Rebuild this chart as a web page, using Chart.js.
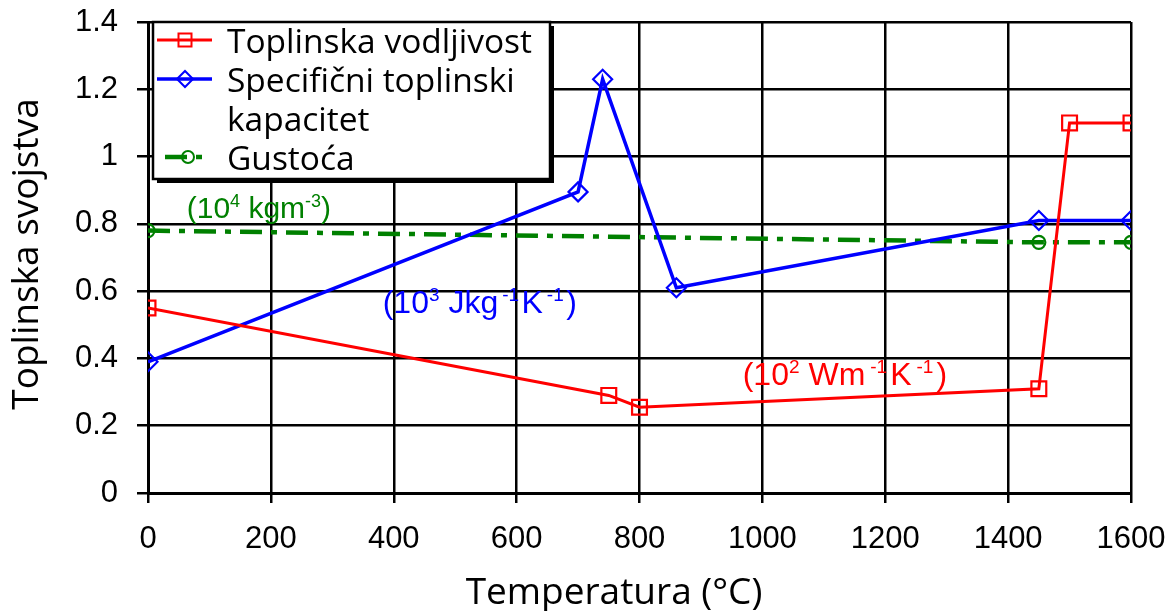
<!DOCTYPE html>
<html>
<head>
<meta charset="utf-8">
<script src="https://cdn.jsdelivr.net/npm/chart.js@4/dist/chart.umd.min.js"></script>
<style>
html,body{margin:0;padding:0;background:#fff;}
#wrap{position:relative;width:1176px;height:611px;}
</style>
</head>
<body>
<div id="wrap"><canvas id="c" width="1176" height="611"></canvas></div>
<script>
// ---- data ----
const xTicks = [0, 200, 400, 600, 800, 1000, 1200, 1400, 1600];
const yTicks = ['0', '0.2', '0.4', '0.6', '0.8', '1', '1.2', '1.4'];

const conductivityTemp = [0, 750, 800, 1450, 1500, 1600];
const conductivity     = [0.55, 0.29, 0.255, 0.31, 1.10, 1.10];

const heatCapTemp = [0, 700, 740, 860, 1450, 1600];
const heatCap     = [0.39, 0.895, 1.23, 0.61, 0.81, 0.81];

const densityTemp = [0, 1450, 1600];
const density     = [0.78, 0.745, 0.745];

const seriesNames = ['Toplinska vodljivost', 'Specifični toplinski kapacitet', 'Gustoća'];
const xTitle = 'Temperatura (°C)';
const yTitle = 'Toplinska svojstva';

// unit annotations: [text, isSuperscript] pieces, anchored at data coordinates
const unitNotes = [
  { color: '#ff0000', at: [968, 0.321], size: 32, gap: 5, parts: [['(10',0],['2',1],[' Wm',0],['-1',1],['K',0],['-1',1],[')',0]] },
  { color: '#0000ff', at: [382, 0.535], size: 32, gap: 4, parts: [['(10',0],['3',1],[' Jkg',0],['-1',1],['K',0],['-1',1],[')',0]] },
  { color: '#008000', at: [63, 0.817],  size: 30, gap: 0, parts: [['(10',0],['4',1],[' kgm',0],['-3',1],[')',0]] }
];

const pts = (xs, ys) => xs.map((x, i) => ({ x: x, y: ys[i] }));

const SANS = '"Open Sans", "Noto Sans", sans-serif';
const ARIAL = '"Liberation Sans", Arial, sans-serif';

const unitPlugin = {
  id: 'unitNotes',
  afterDatasetsDraw(chart) {
    const ctx = chart.ctx, xs = chart.scales.x, ys = chart.scales.y;
    ctx.save();
    ctx.textBaseline = 'alphabetic';
    ctx.textAlign = 'left';
    unitNotes.forEach(n => {
      let px = xs.getPixelForValue(n.at[0]);
      const py = ys.getPixelForValue(n.at[1]);
      ctx.fillStyle = n.color;
      n.parts.forEach(([t, sup]) => {
        const size = sup ? Math.round(n.size * 0.6) : n.size;
        ctx.font = size + 'px ' + ARIAL;
        const neg = sup && t.charAt(0) === '-';
        if (neg) px += n.gap;
        ctx.fillText(t, px, sup ? py - n.size * 0.38 : py);
        px += ctx.measureText(t).width;
        if (neg) px += n.gap * 0.6;
      });
    });
    ctx.restore();
  }
};

function drawMarker(ctx, style, x, y, r) {
  ctx.beginPath();
  if (style === 'rect') {
    ctx.rect(x - r, y - r, 2 * r, 2 * r);
  } else if (style === 'rectRot') {
    ctx.moveTo(x - r, y); ctx.lineTo(x, y - r); ctx.lineTo(x + r, y); ctx.lineTo(x, y + r); ctx.closePath();
  } else {
    ctx.arc(x, y, r, 0, Math.PI * 2);
  }
  ctx.stroke();
}

const legendPlugin = {
  id: 'boxLegend',
  afterDraw(chart) {
    const ctx = chart.ctx;
    const L = 153, T = 22, R = 550, B = 179;
    ctx.save();
    ctx.fillStyle = '#000';
    ctx.fillRect(L + 4, T + 4, R - L, B - T);
    ctx.fillStyle = '#fff';
    ctx.fillRect(L, T, R - L, B - T);
    ctx.strokeStyle = '#000';
    ctx.lineWidth = 2.5;
    ctx.strokeRect(L, T, R - L, B - T);

    ctx.font = '33.5px ' + SANS;
    ctx.fillStyle = '#000';
    ctx.textBaseline = 'alphabetic';
    ctx.textAlign = 'left';
    const lineH = 39;
    let baseline = 53;
    const maxW = R - 227 - 8;
    chart.data.datasets.forEach((ds) => {
      const words = ds.label.split(' ');
      const lines = [];
      let cur = '';
      words.forEach(w => {
        const test = cur ? cur + ' ' + w : w;
        if (ctx.measureText(test).width > maxW && cur) { lines.push(cur); cur = w; } else { cur = test; }
      });
      lines.push(cur);
      const sy = baseline - 13;
      ctx.strokeStyle = ds.borderColor;
      ctx.lineWidth = ds.borderWidth;
      ctx.setLineDash(ds.borderDash || []);
      ctx.beginPath();
      if (ds.borderDash) { ctx.moveTo(165, sy); ctx.lineTo(207, sy); }
      else { ctx.moveTo(157, sy); ctx.lineTo(212, sy); }
      ctx.stroke();
      ctx.setLineDash([]);
      ctx.lineWidth = 2;
      drawMarker(ctx, ds.pointStyle, ds.borderDash ? 188 : 185, sy, ds.pointStyle === 'rect' ? 6.5 : (ds.pointStyle === 'rectRot' ? 8 : 6));
      ctx.fillStyle = '#000';
      ctx.font = '33.5px ' + SANS;
      lines.forEach((ln, k) => ctx.fillText(ln, 227, baseline + k * lineH));
      baseline += lineH * lines.length;
    });
    ctx.restore();
  }
};

const titlePlugin = {
  id: 'axisTitles',
  afterDraw(chart) {
    const ctx = chart.ctx;
    ctx.save();
    ctx.fillStyle = '#000';
    ctx.font = '37px ' + SANS;
    ctx.textAlign = 'center';
    ctx.textBaseline = 'alphabetic';
    ctx.fillText(xTitle, 614, 604);
    ctx.font = '37px ' + SANS;
    ctx.translate(38, 254);
    ctx.rotate(-Math.PI / 2);
    ctx.fillText(yTitle, 0, 0);
    ctx.restore();
  }
};

const chart = new Chart(document.getElementById('c'), {
  type: 'line',
  data: {
    datasets: [
      {
        label: seriesNames[0],
        data: pts(conductivityTemp, conductivity),
        borderColor: '#ff0000', backgroundColor: 'rgba(0,0,0,0)',
        borderWidth: 3, pointStyle: 'rect', pointRadius: 10.5, pointBorderWidth: 2.2,
        pointBackgroundColor: 'rgba(0,0,0,0)', tension: 0
      },
      {
        label: seriesNames[1],
        data: pts(heatCapTemp, heatCap),
        borderColor: '#0000ff', backgroundColor: 'rgba(0,0,0,0)',
        borderWidth: 3.5, pointStyle: 'rectRot', pointRadius: 9.5, pointBorderWidth: 2.2,
        pointBackgroundColor: 'rgba(0,0,0,0)', tension: 0
      },
      {
        label: seriesNames[2],
        data: pts(densityTemp, density),
        borderColor: '#008000', backgroundColor: 'rgba(0,0,0,0)',
        borderWidth: 4.5, borderDash: [22, 9, 6, 9], pointStyle: 'circle', pointRadius: 6.5, pointBorderWidth: 2.2,
        pointBackgroundColor: 'rgba(0,0,0,0)', tension: 0
      }
    ]
  },
  options: {
    responsive: false,
    animation: false,
    devicePixelRatio: 1,
    layout: { padding: { top: 22, right: 45, left: 0, bottom: 0 } },
    plugins: { legend: { display: false }, tooltip: { enabled: false } },
    scales: {
      x: {
        type: 'linear', min: 0, max: 1600,
        afterBuildTicks(s) { s.ticks = xTicks.map(v => ({ value: v })); },
        afterFit(s) { s.height = 118; s.paddingLeft = 0; s.paddingRight = 0; },
        ticks: { color: '#000', font: { family: ARIAL, size: 31 }, padding: 18, maxRotation: 0, callback: v => String(v) },
        grid: { color: '#000', lineWidth: 2.5, tickLength: 10 },
        border: { color: '#000', width: 3 }
      },
      y: {
        type: 'linear', min: 0, max: 1.4,
        afterBuildTicks(s) { s.ticks = yTicks.map(v => ({ value: parseFloat(v) })); },
        afterFit(s) { s.width = 148; s.paddingTop = 0; s.paddingBottom = 0; },
        ticks: { color: '#000', font: { family: ARIAL, size: 31 }, padding: 19,
                 callback: (v, i) => yTicks[i] },
        grid: { color: '#000', lineWidth: 2.5, tickLength: 11 },
        border: { color: '#000', width: 3 }
      }
    }
  },
  plugins: [unitPlugin, legendPlugin, titlePlugin]
});
</script>
</body>
</html>
